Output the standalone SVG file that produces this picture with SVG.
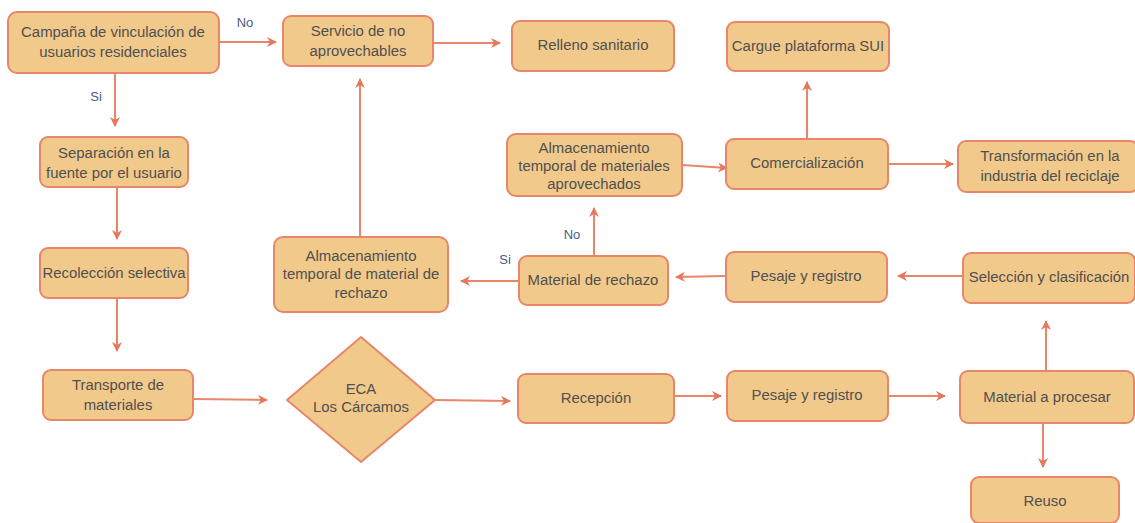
<svg xmlns="http://www.w3.org/2000/svg" width="1135" height="523" viewBox="0 0 1135 523">
<defs>
<marker id="ah" viewBox="0 0 10 10" refX="9" refY="5" markerWidth="10" markerHeight="10" markerUnits="userSpaceOnUse" orient="auto">
<path d="M0,0 L10,5 L0,10 L3,5 Z" fill="#E5775A"/>
</marker>
</defs>
<style>
.n{fill:#F1C98B;stroke:#E8866A;stroke-width:2}
.t{font-family:"Liberation Sans",Arial,sans-serif;font-size:14.9px;fill:#505050;text-anchor:middle}
.l{font-family:"Liberation Sans",Arial,sans-serif;font-size:13px;fill:#4B5A85;text-anchor:middle}
.c{stroke:#E8866A;stroke-width:2;fill:none;marker-end:url(#ah)}
</style>
<rect width="1135" height="523" fill="#ffffff"/>
<g id="connectors">
<line class="c" x1="220" y1="42" x2="276" y2="42"/>
<line class="c" x1="115" y1="73" x2="115" y2="126"/>
<line class="c" x1="117" y1="187" x2="117" y2="239"/>
<line class="c" x1="117" y1="298" x2="117" y2="351"/>
<line class="c" x1="192" y1="399" x2="267" y2="400"/>
<line class="c" x1="435" y1="400" x2="510" y2="401"/>
<line class="c" x1="674" y1="396" x2="721" y2="396"/>
<line class="c" x1="888" y1="396" x2="945" y2="396"/>
<line class="c" x1="1043" y1="423" x2="1043" y2="467"/>
<line class="c" x1="1046" y1="371" x2="1046" y2="321"/>
<line class="c" x1="962" y1="276" x2="898" y2="276"/>
<line class="c" x1="726" y1="276" x2="676" y2="277"/>
<line class="c" x1="519" y1="281" x2="461" y2="281"/>
<line class="c" x1="594" y1="256" x2="594" y2="208"/>
<line class="c" x1="360" y1="237" x2="360" y2="79"/>
<line class="c" x1="433" y1="43" x2="500" y2="43"/>
<line class="c" x1="682" y1="165" x2="727" y2="168"/>
<line class="c" x1="807" y1="139" x2="807" y2="82"/>
<line class="c" x1="888" y1="164" x2="953" y2="164"/>
<text class="l" x="245" y="27">No</text>
<text class="l" x="96" y="101">Si</text>
<text class="l" x="505" y="264">Si</text>
<text class="l" x="572" y="239">No</text>
</g>
<g id="campana"><rect class="n" x="8" y="12" width="211" height="61" rx="9"/><text class="t" x="113" y="37">Campaña de vinculación de</text><text class="t" x="113" y="57">usuarios residenciales</text></g>
<g id="separacion"><rect class="n" x="40" y="137" width="148" height="50" rx="8"/><text class="t" x="114" y="158">Separación en la</text><text class="t" x="114" y="178">fuente por el usuario</text></g>
<g id="recoleccion"><rect class="n" x="40" y="248" width="148" height="50" rx="8"/><text class="t" x="114" y="278">Recolección selectiva</text></g>
<g id="transporte"><rect class="n" x="43" y="370" width="150" height="50" rx="8"/><text class="t" x="118" y="390">Transporte de</text><text class="t" x="118" y="410">materiales</text></g>
<g id="eca"><polygon class="n" points="361,337 435,400 361,462 287,400"/><text class="t" x="361" y="394">ECA</text><text class="t" x="361" y="412">Los Cárcamos</text></g>
<g id="recepcion"><rect class="n" x="518" y="374" width="156" height="49" rx="8"/><text class="t" x="596" y="403">Recepción</text></g>
<g id="pesaje2"><rect class="n" x="727" y="371" width="161" height="50" rx="8"/><text class="t" x="807" y="400">Pesaje y registro</text></g>
<g id="procesar"><rect class="n" x="960" y="371" width="174" height="52" rx="8"/><text class="t" x="1047" y="402">Material a procesar</text></g>
<g id="reuso"><rect class="n" x="971" y="477" width="148" height="46" rx="8"/><text class="t" x="1045" y="506">Reuso</text></g>
<g id="seleccion"><rect class="n" x="963" y="253" width="172" height="50" rx="8"/><text class="t" x="1049" y="282">Selección y clasificación</text></g>
<g id="pesaje1"><rect class="n" x="726" y="252" width="161" height="50" rx="8"/><text class="t" x="806" y="281">Pesaje y registro</text></g>
<g id="rechazo"><rect class="n" x="519" y="256" width="149" height="49" rx="8"/><text class="t" x="593" y="285">Material de rechazo</text></g>
<g id="alm_rechazo"><rect class="n" x="274" y="237" width="174" height="75" rx="9"/><text class="t" x="361" y="261">Almacenamiento</text><text class="t" x="361" y="279">temporal de material de</text><text class="t" x="361" y="298">rechazo</text></g>
<g id="alm_aprov"><rect class="n" x="507" y="134" width="175" height="62" rx="9"/><text class="t" x="594" y="153">Almacenamiento</text><text class="t" x="594" y="171">temporal de materiales</text><text class="t" x="594" y="189">aprovechados</text></g>
<g id="comercializacion"><rect class="n" x="726" y="139" width="162" height="50" rx="8"/><text class="t" x="807" y="168">Comercialización</text></g>
<g id="cargue"><rect class="n" x="727" y="22" width="162" height="49" rx="8"/><text class="t" x="808" y="51">Cargue plataforma SUI</text></g>
<g id="transformacion"><rect class="n" x="958" y="141" width="180" height="51" rx="8"/><text class="t" x="1050" y="161">Transformación en la</text><text class="t" x="1050" y="181">industria del reciclaje</text></g>
<g id="servicio"><rect class="n" x="283" y="16" width="150" height="50" rx="8"/><text class="t" x="358" y="36">Servicio de no</text><text class="t" x="358" y="56">aprovechables</text></g>
<g id="relleno"><rect class="n" x="512" y="21" width="162" height="50" rx="8"/><text class="t" x="593" y="50">Relleno sanitario</text></g>
</svg>
